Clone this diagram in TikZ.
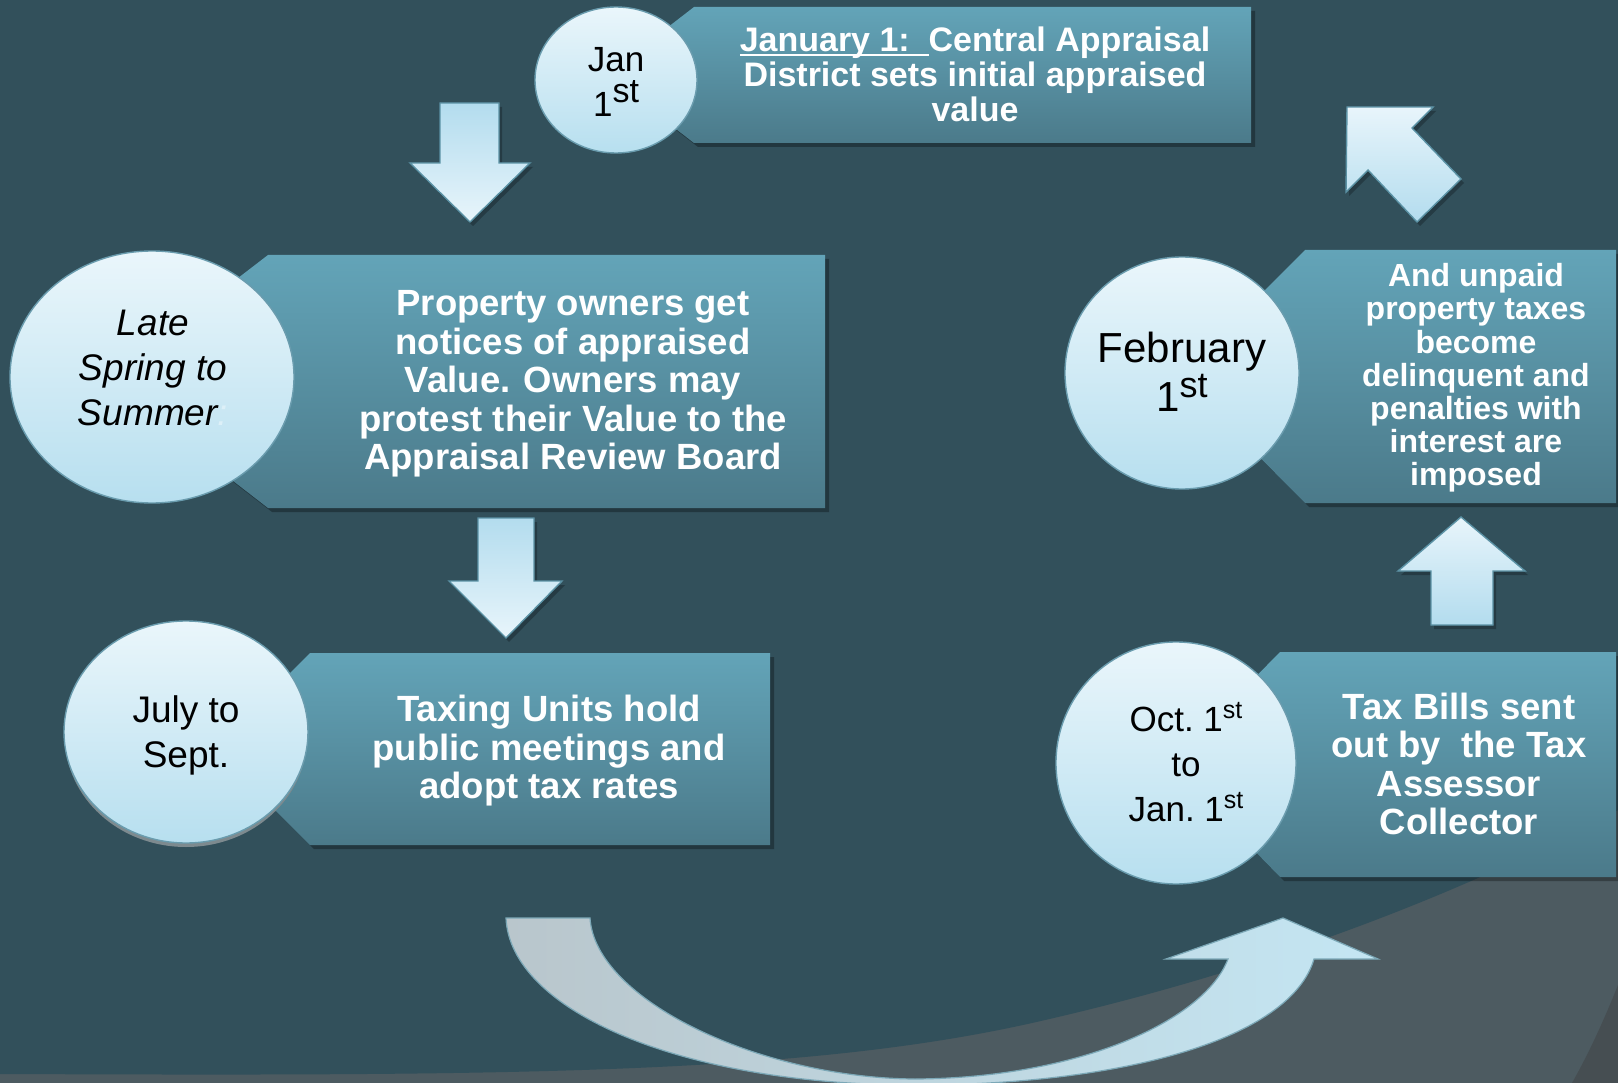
\documentclass[tikz,border=0pt]{standalone}
\usepackage{fontspec}
\setmainfont{Liberation Sans}
\usetikzlibrary{shapes.geometric}
\definecolor{bgc}{RGB}{50,80,91}
\definecolor{grayc}{RGB}{77,91,97}
\definecolor{cornerc}{RGB}{70,78,82}
\definecolor{boxtop}{RGB}{99,164,184}
\definecolor{boxbot}{RGB}{75,122,138}
\definecolor{circtop}{RGB}{234,246,251}
\definecolor{circbot}{RGB}{183,223,239}
\definecolor{circline}{RGB}{106,156,174}
\definecolor{arrlight}{RGB}{232,245,251}
\definecolor{arrdark}{RGB}{179,220,238}
\definecolor{arrline}{RGB}{91,146,165}
\definecolor{curvegray}{RGB}{185,198,204}
\definecolor{curveblue}{RGB}{196,230,243}
\definecolor{colonc}{RGB}{221,240,248}
\definecolor{circshadow}{RGB}{125,138,143}
\newcommand{\supr}[3]{\raisebox{#2pt}{\fontsize{#1}{#1}\selectfont #3}}
\newcommand{\myul}[1]{\setbox0=\hbox{#1}\rlap{\rule[-4.5pt]{\wd0}{1.8pt}}\box0}
\tikzset{
  boxshape/.style={top color=boxtop, bottom color=boxbot, draw=none},
  boxshadow/.style={fill=black, opacity=0.3},
  circnode/.style={ellipse, inner sep=0pt, top color=circtop, bottom color=circbot, draw=circline, line width=1.4pt},
  blockarrow/.style={draw=arrline, line width=1.4pt, line join=miter},
  arrshadow/.style={fill=black, opacity=0.25},
  boxtext/.style={text=white, align=center, font=\bfseries\fontsize{36.5}{38.5}\selectfont, inner sep=0pt},
  circtext/.style={text=black, align=center, inner sep=0pt}
}
\begin{document}
\begin{tikzpicture}[x=1pt,y=-1pt]
\useasboundingbox (0,0) rectangle (1618,1083);
% background
\fill[grayc] (0,0) rectangle (1618,1083);
\fill[bgc] (0,0) -- (0,1074) .. controls (500,1076) and (800,1075) .. (1032,1023)
  .. controls (1250,974) and (1450,900) .. (1618,810) -- (1618,0) -- cycle;
\fill[cornerc] (1618,985) .. controls (1600,1030) and (1585,1060) .. (1572,1083) -- (1618,1083) -- cycle;

% curved arrow
\shade[left color=curvegray, right color=curveblue, draw=arrline!80, line width=1.2pt]
  (506,918) -- (590,918)
  .. controls (595,1000) and (760,1078) .. (915,1079)
  .. controls (1080,1078) and (1205,1020) .. (1228,959)
  -- (1166,959) -- (1283,918) -- (1378,959) -- (1314,959)
  .. controls (1290,1040) and (1120,1085) .. (915,1085)
  .. controls (680,1085) and (510,1010) .. (506,918) -- cycle;

% box shadows
\fill[boxshadow] (698,11) -- (1255,11) -- (1255,147) -- (698,147) -- (610,79) -- cycle;
\fill[boxshadow] (272,259) -- (829,259) -- (829,512) -- (272,512) -- (108,385) -- cycle;
\fill[boxshadow] (314,657) -- (774,657) -- (774,849) -- (314,849) -- (218,753) -- cycle;
\fill[boxshadow] (1309,254) -- (1622,254) -- (1622,507) -- (1309,507) -- (1183,380) -- cycle;
\fill[boxshadow] (1284,656) -- (1622,656) -- (1622,881) -- (1284,881) -- (1174,768) -- cycle;

% boxes
\shade[boxshape] (694,7) -- (1251,7) -- (1251,143) -- (694,143) -- (606,75) -- cycle;
\shade[boxshape] (268,255) -- (825,255) -- (825,508) -- (268,508) -- (104,381) -- cycle;
\shade[boxshape] (310,653) -- (770,653) -- (770,845) -- (310,845) -- (214,749) -- cycle;
\shade[boxshape] (1305,250) -- (1616,250) -- (1616,503) -- (1305,503) -- (1179,376) -- cycle;
\shade[boxshape] (1280,652) -- (1616,652) -- (1616,877) -- (1280,877) -- (1170,764) -- cycle;

% circles
\fill[circshadow] (186,737) ellipse [x radius=121, y radius=110];
\node[circnode, minimum width=162pt, minimum height=146pt] (cjan) at (616,80) {};
\node[circnode, minimum width=284pt, minimum height=252pt] (cspring) at (152,377) {};
\node[circnode, minimum width=244pt, minimum height=222pt] (cjuly) at (186,732) {};
\node[circnode, minimum width=234pt, minimum height=232pt] (cfeb) at (1182,373) {};
\node[circnode, minimum width=240pt, minimum height=242pt] (coct) at (1176,763) {};

% block arrows
\fill[arrshadow] (443,107) -- (502,107) -- (502,167) -- (533,167) -- (473,226) -- (413,167) -- (443,167) -- cycle;
\shade[blockarrow, top color=arrdark, bottom color=arrlight]
  (440,103) -- (499,103) -- (499,163) -- (530,163) -- (470,222) -- (410,163) -- (440,163) -- cycle;
\fill[arrshadow] (481,522) -- (537,522) -- (537,585) -- (565,585) -- (509,642) -- (452,585) -- (481,585) -- cycle;
\shade[blockarrow, top color=arrdark, bottom color=arrlight]
  (478,518) -- (534,518) -- (534,581) -- (562,581) -- (506,638) -- (449,581) -- (478,581) -- cycle;
\fill[arrshadow] (1434,629) -- (1496,629) -- (1496,575) -- (1528,575) -- (1464,521) -- (1401,575) -- (1434,575) -- cycle;
\shade[blockarrow, top color=arrlight, bottom color=arrdark]
  (1431,625) -- (1493,625) -- (1493,571) -- (1525,571) -- (1461,517) -- (1398,571) -- (1431,571) -- cycle;
\fill[arrshadow] (1350,111) -- (1436,111) -- (1415,132) -- (1464,183) -- (1420,226) -- (1371,174) -- (1349,196) -- cycle;
\shade[blockarrow, top color=arrlight, bottom color=arrdark]
  (1347,107) -- (1433,107) -- (1412,128) -- (1461,179) -- (1417,222) -- (1368,170) -- (1346,192) -- cycle;

% circle texts
\node[circtext, font=\fontsize{35}{45}\selectfont] (tjan) at (616,82) {Jan\\1\supr{34}{14}{st}};
\node[circtext, font=\itshape\fontsize{37}{45}\selectfont] (tspring) at (153,368) {Late\\Spring to\\Summer{\color{colonc}:}};
\node[circtext, font=\fontsize{37}{45}\selectfont] (tjuly) at (186,735) {July to\\Sept.};
\node[circtext, font=\fontsize{42}{49}\selectfont] (tfeb) at (1182,372) {February\\1\supr{36}{14}{st}};
\node[circtext, font=\fontsize{35}{45}\selectfont] (toct) at (1186,762) {Oct.\ 1\supr{25}{13}{st}\\to\\Jan.\ 1\supr{25}{13}{st}};

% box texts
\node[boxtext, font=\bfseries\fontsize{34}{35}\selectfont] (tcad) at (975,74)
  {\myul{January 1:\ \ }Central Appraisal\\District sets initial appraised\\value};
\node[boxtext] (tprop) at (573,384)
  {Property owners get\\notices of appraised\\Value. Owners may\\protest their Value to the\\Appraisal Review Board};
\node[boxtext] (ttaxing) at (549,751)
  {Taxing Units hold\\public meetings and\\adopt tax rates};
\node[boxtext, font=\bfseries\fontsize{32}{33.2}\selectfont] (tunpaid) at (1476,378)
  {And unpaid\\property taxes\\become\\delinquent and\\penalties with\\interest are\\imposed};
\node[boxtext] (tbills) at (1459,764)
  {Tax Bills sent\\out by~ the Tax\\Assessor\\Collector};
\end{tikzpicture}
\end{document}
